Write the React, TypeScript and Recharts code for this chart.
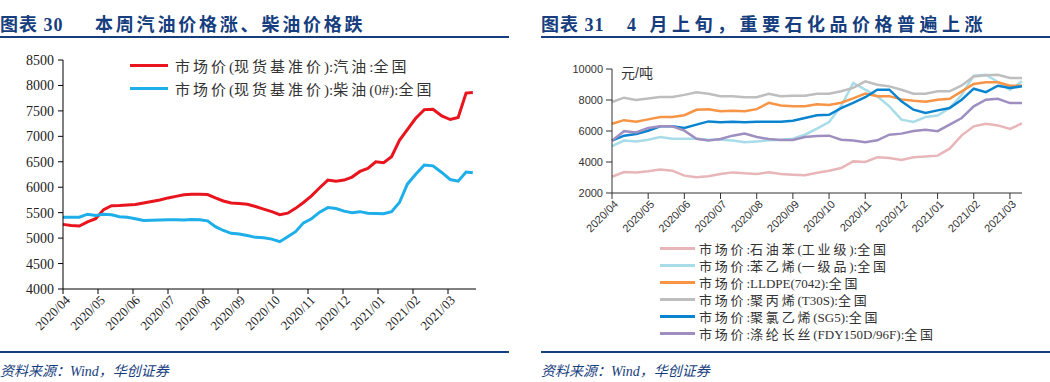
import { LineChart, Line, XAxis, YAxis, Legend } from "recharts";

const navy = "#163E7E";

// left panel: weekly gasoline / diesel market prices
const fuelDates = [
  "2020/04/01", "2020/04/08", "2020/04/15", "2020/04/22", "2020/04/29", "2020/05/06", "2020/05/13",
  "2020/05/20", "2020/05/27", "2020/06/03", "2020/06/10", "2020/06/17", "2020/06/24", "2020/07/01",
  "2020/07/08", "2020/07/15", "2020/07/22", "2020/07/29", "2020/08/05", "2020/08/12", "2020/08/19",
  "2020/08/26", "2020/09/02", "2020/09/09", "2020/09/16", "2020/09/23", "2020/09/30", "2020/10/07",
  "2020/10/14", "2020/10/21", "2020/10/28", "2020/11/04", "2020/11/11", "2020/11/18", "2020/11/25",
  "2020/12/02", "2020/12/09", "2020/12/16", "2020/12/23", "2020/12/30", "2021/01/06", "2021/01/13",
  "2021/01/20", "2021/01/27", "2021/02/03", "2021/02/10", "2021/02/17", "2021/02/24", "2021/03/03",
  "2021/03/10", "2021/03/17", "2021/03/23",
];
const gasoline = [
  5270, 5250, 5238, 5320, 5380, 5560, 5638, 5640, 5650, 5660, 5690, 5720, 5750, 5790,
  5820, 5850, 5860, 5860, 5855, 5790, 5730, 5690, 5680, 5665, 5620, 5570, 5520, 5460,
  5490, 5585, 5700, 5830, 5990, 6140, 6120, 6140, 6200, 6310, 6370, 6500, 6480, 6600,
  6920, 7130, 7350, 7525, 7530, 7400, 7330, 7370, 7850, 7860,
];
const diesel = [
  5410, 5410, 5410, 5470, 5445, 5470, 5460, 5420, 5410, 5380, 5345, 5350, 5356, 5360,
  5360, 5358, 5365, 5362, 5340, 5225, 5150, 5094, 5082, 5050, 5015, 5005, 4980, 4930,
  5028, 5127, 5300, 5380, 5510, 5600, 5580, 5530, 5500, 5520, 5490, 5485, 5480, 5520,
  5700, 6060, 6250, 6437, 6420, 6290, 6150, 6120, 6300, 6285,
];
const fuelTicks = [4000, 4500, 5000, 5500, 6000, 6500, 7000, 7500, 8000, 8500];
const fuelNames = ["市场价(现货基准价):汽油:全国", "市场价(现货基准价):柴油(0#):全国"];

const monthLabels = [
  "2020/04", "2020/05", "2020/06", "2020/07", "2020/08", "2020/09",
  "2020/10", "2020/11", "2020/12", "2021/01", "2021/02", "2021/03",
];

// right panel: petrochemical prices by ten-day period
const xunNames = ["上旬", "中旬", "下旬"];
const xunCats = monthLabels.flatMap((m) => xunNames.map((x) => m + x)).slice(0, 35);
const benzene = [
  3050, 3350, 3330, 3400, 3510, 3440, 3120, 3010, 3080, 3230, 3330, 3270, 3230, 3330, 3230, 3180,
  3140, 3300, 3440, 3610, 4040, 4000, 4300, 4260, 4130, 4300, 4360, 4410, 4860, 5720, 6300, 6470,
  6360, 6130, 6490,
];
const styrene = [
  5020, 5380, 5330, 5440, 5610, 5500, 5500, 5500, 5440, 5440, 5380, 5270, 5330, 5400, 5440, 5500,
  5760, 6150, 6580, 7610, 9100, 8665, 8240, 7590, 6730, 6580, 6900, 7000, 7480, 8340, 9570, 9630,
  9160, 8665, 9200,
];
const lldpe = [
  6470, 6700, 6600, 6750, 6900, 6900, 7020, 7370, 7410, 7270, 7310, 7270, 7410, 7820, 7650, 7590,
  7590, 7720, 7675, 7820, 8100, 8420, 8250, 8250, 8040, 7950, 7890, 8020, 8080, 8560, 9030, 9140,
  9140, 8920, 8920,
];
const pp = [
  7870, 8150, 8000, 8100, 8200, 8200, 8330, 8500, 8400, 8240, 8240, 8180, 8180, 8400, 8240, 8280,
  8280, 8400, 8400, 8560, 8780, 9200, 8990, 8880, 8665, 8400, 8400, 8560, 8560, 8940, 9520, 9590,
  9630, 9420, 9420,
];
const pvc = [
  5380, 5700, 5810, 6020, 6300, 6300, 6190, 6410, 6620, 6560, 6600, 6560, 6600, 6600, 6600, 6660,
  6840, 7020, 7050, 7480, 7820, 8180, 8665, 8665, 7910, 7375, 7160, 7330, 7480, 8020, 8730, 8510,
  8920, 8780, 8880,
];
const polyester = [
  5380, 5990, 5910, 6190, 6300, 6300, 6020, 5500, 5380, 5480, 5700, 5830, 5610, 5480, 5420, 5420,
  5610, 5680, 5700, 5440, 5380, 5270, 5400, 5760, 5830, 6000, 6085, 5990, 6410, 6840, 7590, 8020,
  8080, 7800, 7800,
];
const chemTicks = [2000, 4000, 6000, 8000, 10000];
const chemNames = [
  "市场价:石油苯(工业级):全国",
  "市场价:苯乙烯(一级品):全国",
  "市场价:LLDPE(7042):全国",
  "市场价:聚丙烯(T30S):全国",
  "市场价:聚氯乙烯(SG5):全国",
  "市场价:涤纶长丝(FDY150D/96F):全国",
];

// month position so that every month gets the same width on the axis
function monthPos(date: string) {
  const [y, m, d] = date.split("/").map(Number);
  const days = new Date(y, m, 0).getDate();
  return (y - 2020) * 12 + (m - 4) + (d - 1) / days;
}

const fuelData = fuelDates.map((d, i) => ({ pos: monthPos(d), gas: gasoline[i], diesel: diesel[i] }));
const chemData = xunCats.map((c, i) => ({
  cat: c,
  benzene: benzene[i],
  styrene: styrene[i],
  lldpe: lldpe[i],
  pp: pp[i],
  pvc: pvc[i],
  polyester: polyester[i],
}));

const serif = '"Liberation Serif", "Noto Sans CJK SC", serif';
const sans = '"Liberation Sans", "Noto Sans CJK SC", sans-serif';

// spread out only the CJK glyphs, like the wide SimSun legend text
function spaced(text: string, gap: number) {
  return text.split(/([\u4e00-\u9fff]+)/).map((part, i) =>
    /[\u4e00-\u9fff]/.test(part) ? (
      <span key={i} style={{ letterSpacing: gap }}>{part}</span>
    ) : (
      <span key={i}>{part}</span>
    )
  );
}

const FuelXTick = (props: any) => {
  const { x, y, payload } = props;
  return (
    <g transform={`translate(${x + 5},${y + 2})`}>
      <text textAnchor="end" transform="rotate(-45)" fontSize={13} fontFamily={serif} fill="#222" dy={4}>
        {monthLabels[payload.value]}
      </text>
    </g>
  );
};

const ChemXTick = (props: any) => {
  const { x, y, payload } = props;
  return (
    <g transform={`translate(${x + 4},${y + 1})`}>
      <text textAnchor="end" transform="rotate(-45)" fontSize={11} fontFamily={sans} fill="#333" dy={4}>
        {String(payload.value).slice(0, 7)}
      </text>
    </g>
  );
};

const makeLegend = (order: string[], fontSize: number, gap: number, row: number, swatch: number, thick: number, pad: number) =>
  (props: any) => {
    const items = [...(props.payload || [])].sort(
      (a: any, b: any) => order.indexOf(a.value) - order.indexOf(b.value)
    );
    return (
      <div style={{ fontFamily: serif, fontSize, color: "#333" }}>
        {items.map((item: any) => (
          <div key={item.value} style={{ display: "flex", alignItems: "center", height: row }}>
            <span style={{ display: "inline-block", width: swatch, height: thick, background: item.color, marginRight: pad }} />
            <span style={{ whiteSpace: "nowrap" }}>{spaced(item.value, gap)}</span>
          </div>
        ))}
      </div>
    );
  };

const FuelLegend = makeLegend(fuelNames, 15, 3, 23, 38, 3, 7);
const ChemLegend = makeLegend(chemNames, 13, 2.8, 17, 35, 2.5, 4);

const titleStyle = {
  position: "absolute" as const,
  top: 10,
  fontSize: 18,
  fontWeight: "bold" as const,
  color: navy,
  fontFamily: serif,
  whiteSpace: "nowrap" as const,
};

const sourceStyle = {
  position: "absolute" as const,
  top: 360,
  fontSize: 14,
  fontStyle: "italic" as const,
  color: navy,
  fontFamily: serif,
  whiteSpace: "nowrap" as const,
};

const rule = (left: number, top: number, width: number) => (
  <div style={{ position: "absolute", left, top, width, height: 2, background: navy }} />
);

export default function App() {
  return (
    <div style={{ position: "absolute", left: 0, top: 0, width: 1050, height: 382, background: "#fff", overflow: "hidden" }}>
      <div style={{ ...titleStyle, left: 0, letterSpacing: 1 }}>图表 30</div>
      <div style={{ ...titleStyle, left: 95, letterSpacing: 2.8 }}>本周汽油价格涨、柴油价格跌</div>
      <div style={{ ...titleStyle, left: 541, letterSpacing: 1 }}>图表 31</div>
      <div style={{ ...titleStyle, left: 627, letterSpacing: 4.5 }}>4 月上旬，重要石化品价格普遍上涨</div>
      {rule(0, 36, 509)}
      {rule(541, 36, 509)}

      <div style={{ position: "absolute", left: 0, top: 0 }}>
        <LineChart width={510} height={348} data={fuelData} margin={{ top: 60, right: 34, left: 3, bottom: 19 }}>
          <XAxis
            dataKey="pos"
            type="number"
            domain={[0, 11.8]}
            ticks={[0, 1, 2, 3, 4, 5, 6, 7, 8, 9, 10, 11]}
            allowDecimals
            height={40}
            stroke="#000"
            tickSize={5}
            tick={<FuelXTick />}
          />
          <YAxis
            domain={[4000, 8500]}
            ticks={fuelTicks}
            width={60}
            stroke="#000"
            tickSize={5}
            tickMargin={4}
            tick={{ fontSize: 14, fontFamily: serif, fill: "#222" }}
          />
          <Legend
            layout="vertical"
            align="center"
            verticalAlign="middle"
            content={<FuelLegend />}
            wrapperStyle={{ left: 130, top: 54, width: "auto", height: "auto" }}
          />
          <Line type="linear" dataKey="gas" name={fuelNames[0]} stroke="#E8141E" strokeWidth={3} dot={false} isAnimationActive={false} />
          <Line type="linear" dataKey="diesel" name={fuelNames[1]} stroke="#1EAEEA" strokeWidth={3} dot={false} isAnimationActive={false} />
        </LineChart>
      </div>

      <div style={{ position: "absolute", left: 535, top: 0 }}>
        <LineChart width={515} height={350} data={chemData} margin={{ top: 69, right: 28, left: 17, bottom: 107 }}>
          <XAxis
            dataKey="cat"
            interval={2}
            height={50}
            stroke="#333"
            tickSize={6}
            tick={<ChemXTick />}
          />
          <YAxis
            domain={[2000, 10000]}
            ticks={chemTicks}
            width={60}
            stroke="#333"
            tickSize={6}
            tickMargin={3}
            tick={{ fontSize: 11, fontFamily: sans, fill: "#333" }}
          />
          <Legend
            layout="vertical"
            align="center"
            verticalAlign="middle"
            content={<ChemLegend />}
            wrapperStyle={{ left: 125, top: 240, width: "auto", height: "auto" }}
          />
          <Line type="linear" dataKey="benzene" name={chemNames[0]} stroke="#E8B6B8" strokeWidth={2.5} dot={false} isAnimationActive={false} />
          <Line type="linear" dataKey="styrene" name={chemNames[1]} stroke="#A9DCE9" strokeWidth={2.5} dot={false} isAnimationActive={false} />
          <Line type="linear" dataKey="lldpe" name={chemNames[2]} stroke="#F79445" strokeWidth={2.5} dot={false} isAnimationActive={false} />
          <Line type="linear" dataKey="pp" name={chemNames[3]} stroke="#BEBEBE" strokeWidth={2.5} dot={false} isAnimationActive={false} />
          <Line type="linear" dataKey="pvc" name={chemNames[4]} stroke="#0B84CF" strokeWidth={2.5} dot={false} isAnimationActive={false} />
          <Line type="linear" dataKey="polyester" name={chemNames[5]} stroke="#9E8FC0" strokeWidth={2.5} dot={false} isAnimationActive={false} />
        </LineChart>
        <div style={{ position: "absolute", left: 86, top: 62, fontSize: 14, fontFamily: sans, color: "#333" }}>元/吨</div>
      </div>

      {rule(0, 351, 509)}
      {rule(541, 351, 509)}
      <div style={{ ...sourceStyle, left: 0 }}>资料来源：Wind，华创证券</div>
      <div style={{ ...sourceStyle, left: 541 }}>资料来源：Wind，华创证券</div>
    </div>
  );
}
